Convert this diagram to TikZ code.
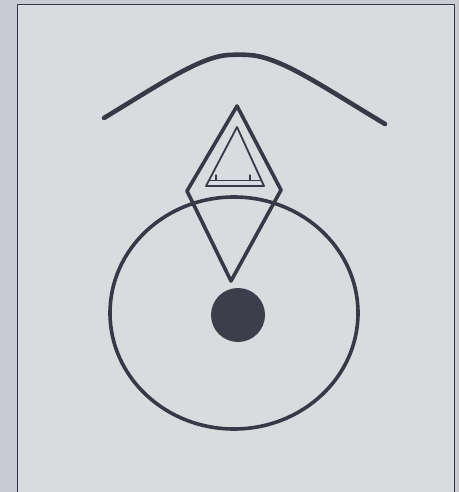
\documentclass[tikz,border=0pt]{standalone}
\begin{document}
\begin{tikzpicture}[x=1pt,y=-1pt,
  ink/.style={draw=inkc,line cap=round,line join=round},
  thickline/.style={ink,line width=4.6pt},
  midline/.style={ink,line width=3.6pt},
  thinline/.style={ink,line width=1.8pt}]
\definecolor{inkc}{RGB}{56,57,70}
\definecolor{paper}{RGB}{217,220,223}
\definecolor{outer}{RGB}{200,203,207}
\definecolor{dotc}{RGB}{60,62,76}
\useasboundingbox (0,0) rectangle (459,492);
\fill[outer] (0,0) rectangle (459,492);
\fill[paper] (17,4) rectangle (454,492);
\draw[draw=inkc,line width=0.8pt] (17,492) -- (17,4) -- (454,4) -- (454,492);
% top arc
\draw[thickline] (104,118) .. controls (160,84) and (200,57) .. (228,55)
  .. controls (238,54.5) and (246,54.5) .. (254,55.5)
  .. controls (285,60) and (325,88) .. (385,124);
% big circle
\draw[midline] (234,313) ellipse [x radius=124, y radius=116];
% diamond
\coordinate (dt) at (237,106);
\coordinate (dl) at (187,191);
\coordinate (dr) at (281,190);
\coordinate (db) at (231,281);
\draw[midline] (dt) -- (dr) -- (db) -- (dl) -- cycle;
% inner triangle
\coordinate (ta) at (237,127);
\coordinate (tl) at (206,186);
\coordinate (tr) at (264,186);
\draw[thinline] (ta) -- (tr) -- (tl) -- cycle;
\draw[thinline] (209,180.5) -- (261,180.5);
\draw[ink,line width=1.2pt] (216,175) -- (216,180.5);
\draw[ink,line width=1.2pt] (250,175) -- (250,180.5);
% dot
\fill[dotc] (238,315) circle [radius=27];
\end{tikzpicture}
\end{document}
